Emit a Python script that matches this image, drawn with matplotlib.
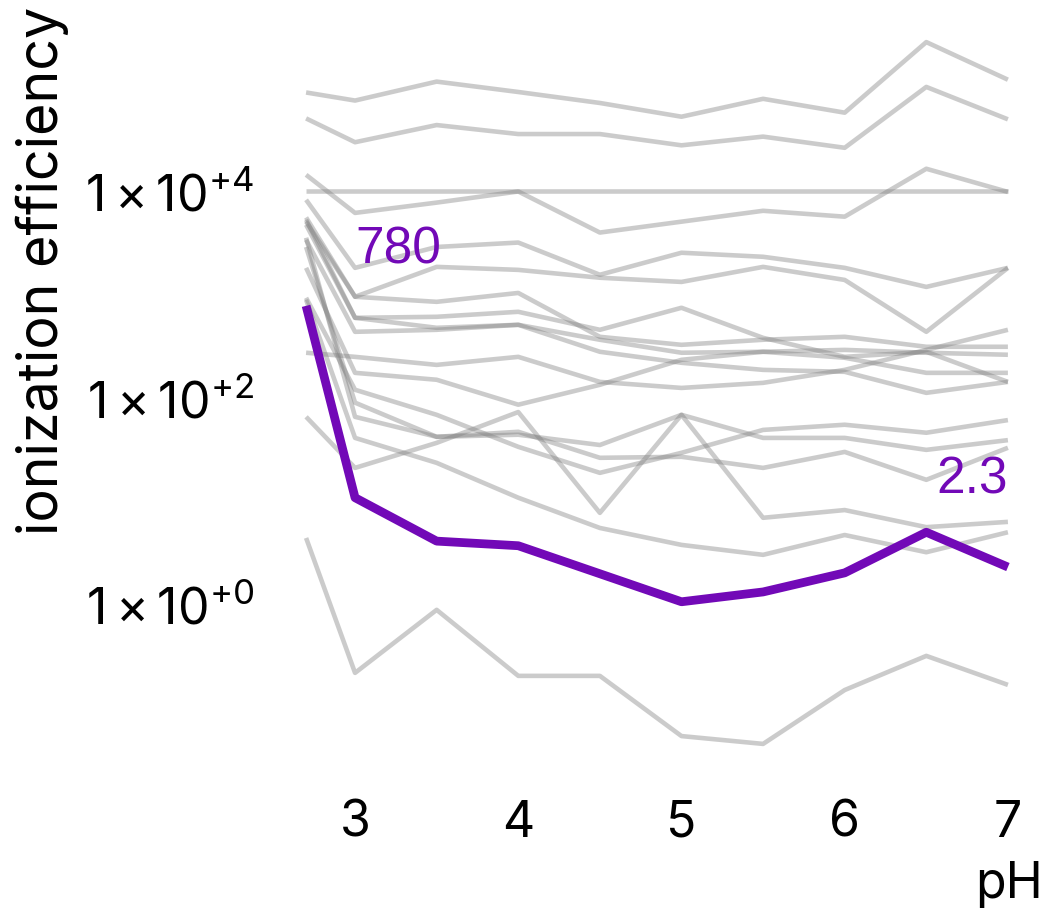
import matplotlib
matplotlib.use("Agg")

import matplotlib.pyplot as plt

FONT = "Inter"
plt.rcParams["font.family"] = [FONT, "DejaVu Sans"]
plt.rcParams["mathtext.fontset"] = "custom"
plt.rcParams["mathtext.rm"] = FONT
plt.rcParams["mathtext.it"] = FONT + ":italic"
plt.rcParams["mathtext.bf"] = FONT + ":bold"

# pH values of the measurements
PH = [2.7, 3.0, 3.5, 4.0, 4.5, 5.0, 5.5, 6.0, 6.5, 7.0]

# ionization efficiencies of the background compounds
COMP_A = [91000, 76000, 116000, 92000, 72000, 53000, 79000, 58000, 280000, 121000]
COMP_B = [51000, 30000, 44000, 36000, 36000, 28000, 34000, 26500, 103000, 50000]
COMP_C = [10000, 10000, 10000, 10000, 10000, 10000, 10000, 10000, 10000, 10000]
COMP_D = [14500, 6200, 7800, 10000, 4000, 5100, 6500, 5700, 16600, 9900]
COMP_E = [8300, 1820, 2900, 3200, 1560, 2550, 2330, 1820, 1190, 1820]
COMP_F = [5100, 955, 1860, 1740, 1460, 1330, 1860, 1390, 437, 1820]
COMP_G = [5600, 955, 853, 1040, 391, 327, 366, 391, 313, 313]
COMP_H = [4760, 597, 611, 683, 457, 747, 382, 250, 280, 143]
COMP_I = [5320, 597, 478, 511, 366, 274, 280, 292, 274, 262]
COMP_J = [3400, 437, 457, 511, 280, 219, 187, 179, 112, 143]
COMP_K = [274, 250, 209, 250, 143, 125, 140, 187, 292, 457]
COMP_L = [1820, 175, 150, 86, 134, 234, 280, 245, 175, 175]
COMP_M = [933, 120, 68.6, 33.6, 18.8, 29.4, 49, 55, 46, 61]
COMP_N = [2900, 90, 42, 44, 35, 68.6, 41, 41, 31.4, 39]
COMP_O = [3560, 65.6, 42, 47, 26.3, 26.9, 21, 30, 16.1, 32.9]
COMP_P = [893, 41, 23.5, 10.8, 5.5, 3.77, 3.02, 4.7, 3.2, 5.0]
COMP_Q = [65.6, 21, 36.7, 73, 7.7, 68.6, 6.9, 8.2, 5.6, 6.3]
COMP_R = [4.4, 0.217, 0.885, 0.203, 0.203, 0.053, 0.0445, 0.148, 0.317, 0.166]

BACKGROUND = [COMP_A, COMP_B, COMP_C, COMP_D, COMP_E, COMP_F, COMP_G, COMP_H,
              COMP_I, COMP_J, COMP_K, COMP_L, COMP_M, COMP_N, COMP_O, COMP_P,
              COMP_Q, COMP_R]

# highlighted compound
HIGHLIGHT = [780, 10.8, 4.1, 3.7, 1.98, 1.06, 1.32, 2.02, 5.0, 2.3]
LABEL_LEFT = "780"
LABEL_RIGHT = "2.3"

Y_TICKS = [1, 100, 10000]
Y_TICK_LABELS = [r"$\mathregular{1 \times 10^{+0}}$",
                 r"$\mathregular{1 \times 10^{+2}}$",
                 r"$\mathregular{1 \times 10^{+4}}$"]
X_TICKS = [3, 4, 5, 6, 7]

PURPLE = "#7209b7"
FS = 36

fig = plt.figure(figsize=(10.51, 9.08), dpi=100)
ax = fig.add_axes([271 / 1051, 1 - 779 / 908, 772 / 1051, 772 / 908])

for series in BACKGROUND:
    ax.plot(PH, series, color="#7f7f7f", alpha=0.4, linewidth=3.3,
            solid_capstyle="butt")

ax.plot(PH, HIGHLIGHT, color=PURPLE, linewidth=6.3, solid_capstyle="butt")

# value labels use the plain sans font, like ggplot's geom_text
ax.text(3.0, 2720, LABEL_LEFT, color=PURPLE, fontsize=37,
        family="Liberation Sans", ha="left", va="center")
ax.text(7.0, 16.1, LABEL_RIGHT, color=PURPLE, fontsize=37,
        family="Liberation Sans", ha="right", va="center")

ax.set_yscale("log")
ax.set_yticks(Y_TICKS)
ax.set_yticklabels(Y_TICK_LABELS)
ax.minorticks_off()
ax.set_xticks(X_TICKS)
ax.set_xticklabels([str(t) for t in X_TICKS])

ax.tick_params(length=0, labelsize=FS, colors="black")
ax.tick_params(axis="y", pad=12)
ax.tick_params(axis="x", pad=15)
for spine in ax.spines.values():
    spine.set_visible(False)

ax.set_xlabel("pH", loc="right", fontsize=FS, labelpad=10)
ax.set_ylabel("ionization efficiency", loc="top", fontsize=40, labelpad=12)

fig.savefig("out.png", dpi=100, facecolor="white")
